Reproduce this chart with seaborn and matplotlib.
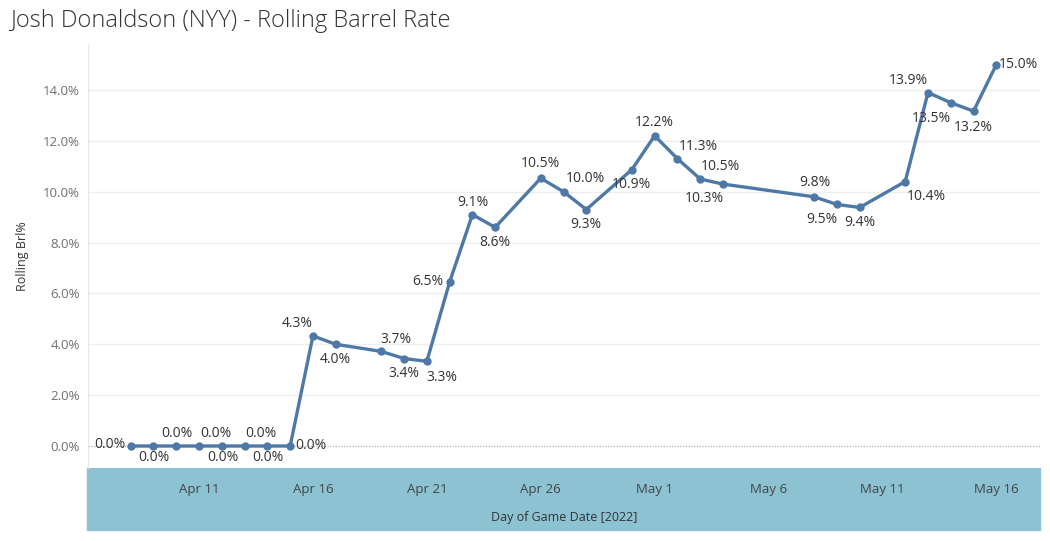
import pandas as pd
import numpy as np
import seaborn as sns
import matplotlib.pyplot as plt
import matplotlib.dates as mdates
from matplotlib.patches import Rectangle
from matplotlib.ticker import FuncFormatter

# Dados
game_dates = ['2022-04-08', '2022-04-09', '2022-04-10', '2022-04-11', '2022-04-12',
              '2022-04-13', '2022-04-14', '2022-04-15', '2022-04-16', '2022-04-17',
              '2022-04-19', '2022-04-20', '2022-04-21', '2022-04-22', '2022-04-23',
              '2022-04-24', '2022-04-26', '2022-04-27', '2022-04-28', '2022-04-30',
              '2022-05-01', '2022-05-02', '2022-05-03', '2022-05-04', '2022-05-08',
              '2022-05-09', '2022-05-10', '2022-05-12', '2022-05-13', '2022-05-14',
              '2022-05-15', '2022-05-16']
rolling_brl = [0.0, 0.0, 0.0, 0.0, 0.0, 0.0, 0.0, 0.0, 4.33, 4.0,
               3.72, 3.44, 3.33, 6.45, 9.1, 8.6, 10.53, 10.0, 9.3, 10.87,
               12.2, 11.3, 10.5, 10.3, 9.8, 9.5, 9.38, 10.4, 13.9, 13.5,
               13.17, 15.0]

# posição dos rótulos (pixels relativos ao ponto)
lbl_dx = [-21, 0, 1, 17, 1, 16, 0, 21, -16, 0,
          15, 0, 15, -22, 0, 0, 0, 22, 0, 0,
          0, 21, 20, -19, 1, -15, 0, 21, -20, -19,
          0, 22]
lbl_dy = [-2, 11, -13, -13, 11, -13, 11, -1, -12, 15,
          -12, 15, 16, 0, -12, 15, -15, -13, 15, 15,
          -13, -12, -13, 14, -14, 15, 15, 15, -12, 16,
          16, 0]

df = pd.DataFrame({'date': pd.to_datetime(game_dates), 'brl': rolling_brl})

sns.set_style('white')
plt.rcParams['font.family'] = ['Open Sans', 'DejaVu Sans']

W, H = 1050, 541
fig = plt.figure(figsize=(W / 100, H / 100), dpi=100)
ax = fig.add_axes([88 / W, 1 - 468 / H, (1040 - 88) / W, (468 - 45) / H])

# faixa do eixo x
fig.add_artist(Rectangle((87 / W, 1 - 530 / H), (1040 - 87) / W, (530 - 468) / H,
                         transform=fig.transFigure, color='#8cc2d2', zorder=0))

line_color = '#4e79a7'
sns.lineplot(data=df, x='date', y='brl', ax=ax, color=line_color, linewidth=2.4,
             marker='o', markersize=6, markeredgewidth=0, zorder=3)

for d, v, dx, dy in zip(df['date'], df['brl'], lbl_dx, lbl_dy):
    ax.annotate(f'{v:.1f}%', (mdates.date2num(d), v), xytext=(dx, -dy),
                textcoords='offset pixels', ha='center', va='center',
                fontsize=10, color='#333333', zorder=4)

# eixos
ax.set_xlim(mdates.date2num(pd.Timestamp('2022-04-06 03:00')),
            mdates.date2num(pd.Timestamp('2022-05-17 22:00')))
ax.set_ylim(-0.865, 15.77)

ax.set_yticks(np.arange(0, 15, 2))
ax.yaxis.set_major_formatter(FuncFormatter(lambda v, p: f'{v:.1f}%'))
ax.tick_params(axis='y', length=0, pad=6, labelsize=9.5, labelcolor='#707070')
for yv in range(2, 15, 2):
    ax.axhline(yv, color='#eeeeee', linewidth=1, zorder=1)
ax.axhline(0, color='#bbbbbb', linewidth=1, linestyle=(0, (1, 1)), zorder=1)

ax.xaxis.set_major_locator(mdates.DayLocator(bymonthday=[1, 6, 11, 16, 21, 26]))
ax.xaxis.set_minor_locator(mdates.DayLocator())
ax.xaxis.set_major_formatter(mdates.DateFormatter('%b %-d'))
ax.tick_params(axis='x', which='major', direction='out', length=5, width=1,
               color='white', pad=6, labelsize=9.5, labelcolor='#444444')
ax.tick_params(axis='x', which='minor', direction='out', length=3, width=1, color='white')

for s in ['top', 'right', 'bottom']:
    ax.spines[s].set_visible(False)
ax.spines['left'].set_color('#e6e6e6')

ax.set_ylabel('Rolling Brl%', fontsize=9, color='#333333')
ax.yaxis.set_label_coords(-(88 - 29) / (1040 - 88), 0.5)
ax.set_xlabel('Day of Game Date [2022]', fontsize=9, color='#333333')
ax.xaxis.set_label_coords(0.5, -(511 - 468) / (468 - 45))

fig.text(10 / W, 1 - 21 / H, 'Josh Donaldson (NYY) - Rolling Barrel Rate',
         fontsize=17, color='#333333', fontweight='light', va='center', ha='left')

fig.savefig('out.png', dpi=100)
